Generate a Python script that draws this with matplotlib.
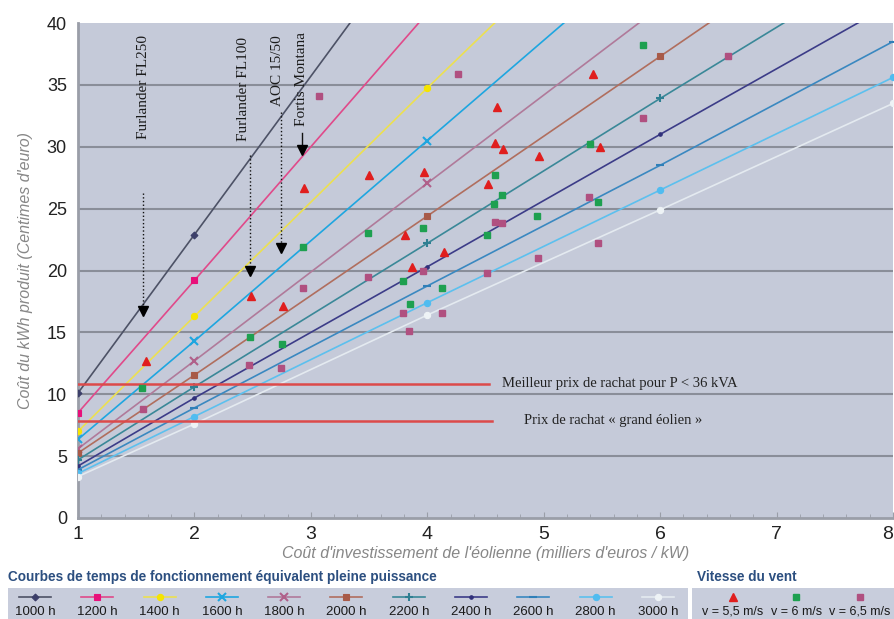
"""Coût du kWh éolien en fonction du coût d'investissement et des heures équivalentes."""

import matplotlib
matplotlib.use('Agg')
from matplotlib import pyplot
from matplotlib.patches import Rectangle
from matplotlib.ticker import MultipleLocator

# courbes de temps de fonctionnement équivalent pleine puissance
curve_labels = ['1000 h', '1200 h', '1400 h', '1600 h', '1800 h', '2000 h',
                '2200 h', '2400 h', '2600 h', '2800 h', '3000 h']
curve_x = [[1, 2, 4], [1, 2, 4], [1, 2, 4, 6], [1, 2, 4, 6], [1, 2, 4, 6],
           [1, 2, 4, 6, 8], [1, 2, 4, 6, 8], [1, 2, 4, 6, 8],
           [1, 2, 4, 6, 8], [1, 2, 4, 6, 8], [1, 2, 4, 6, 8]]
curve_y = [[10.1, 22.9, 48.5],
           [8.5, 19.2, 40.8],
           [7.0, 16.3, 34.75, 52.9],
           [6.35, 14.3, 30.5, 46.7],
           [5.6, 12.7, 27.05, 41.3],
           [5.25, 11.55, 24.4, 37.3, 50.2],
           [4.7, 10.6, 22.2, 33.9, 45.4],
           [4.2, 9.7, 20.3, 31.0, 41.6],
           [3.9, 8.9, 18.75, 28.5, 38.5],
           [3.6, 8.2, 17.4, 26.5, 35.6],
           [3.35, 7.6, 16.4, 24.9, 33.5]]
curve_colors = ['#4d5266', '#e04a8a', '#ece050', '#1ea6e0', '#b07a9a', '#b06e5e',
                '#3a8898', '#3c3c88', '#3a88c0', '#5cc0ee', '#e4eaf0']
curve_mcolors = ['#3c3f6a', '#e8107a', '#f5e400', '#1ea6e0', '#b0608a', '#a85a48',
                 '#2f7f92', '#30307a', '#2f7fb8', '#50bcf0', '#eef3f6']
curve_markers = ['D', 's', 'o', 'x', 'x', 's', '+', 'o', '_', 'o', 'o']
curve_msizes = [3.5, 4, 4.5, 5.5, 5.5, 4, 6, 2.5, 5.5, 4.5, 4.5]

# éoliennes du marché, par vitesse de vent
v55_x = [1.58, 2.49, 2.76, 2.94, 3.50, 3.81, 3.87, 3.97, 4.14, 4.52, 4.58,
         4.60, 4.65, 4.96, 5.42, 5.48]
v55_y = [12.7, 17.9, 17.1, 26.7, 27.7, 22.9, 20.3, 28.0, 21.5, 27.0, 30.3,
         33.2, 29.8, 29.25, 35.9, 30.0]
v60_x = [1.55, 2.48, 2.75, 2.93, 3.49, 3.79, 3.85, 3.96, 4.13, 4.51, 4.57,
         4.58, 4.64, 4.94, 5.40, 5.47, 5.85]
v60_y = [10.5, 14.6, 14.1, 21.9, 23.0, 19.15, 17.3, 23.4, 18.6, 22.9, 25.4,
         27.7, 26.1, 24.4, 30.2, 25.5, 38.2]
v65_x = [1.56, 2.47, 2.74, 2.93, 3.07, 3.49, 3.79, 3.84, 3.96, 4.13, 4.26,
         4.51, 4.58, 4.64, 4.95, 5.39, 5.47, 5.85, 6.58]
v65_y = [8.8, 12.4, 12.1, 18.6, 34.1, 19.5, 16.6, 15.1, 19.95, 16.6, 35.9,
         19.8, 23.9, 23.8, 21.0, 25.9, 22.2, 32.3, 37.3]
wind_labels = ['v = 5,5 m/s', 'v = 6 m/s', 'v = 6,5 m/s']

# prix de rachat
price_levels = [10.85, 7.85]
price_end = [4.53, 4.56]
price_labels = ['Meilleur prix de rachat pour P < 36 kVA',
                'Prix de rachat « grand éolien »']

# modèles annotés
turbine_names = ['Furlander FL250', 'Furlander FL100', 'AOC 15/50', 'Fortis Montana']
turbine_x = [1.56, 2.48, 2.74, 2.92]
turbine_from = [26.3, 29.3, 32.8, 31.1]
turbine_tip = [16.3, 19.5, 21.4, 29.3]

bg = '#c5cad9'
grey = '#8a8e99'
serif = ['Liberation Serif', 'DejaVu Serif']
narrow = ['Liberation Sans Narrow', 'DejaVu Sans Condensed', 'Liberation Sans']
sans = ['Liberation Sans', 'DejaVu Sans']

fig = pyplot.figure(figsize=(8.95, 6.19), dpi=100)
ax = fig.add_axes([78 / 895, 101 / 619, 815 / 895, 495 / 619], zorder=2)
ax.set_facecolor(bg)
ax.set_xlim(1, 8)
ax.set_ylim(0, 40)
for side in ['top', 'right']:
    ax.spines[side].set_visible(False)
for side in ['left', 'bottom']:
    ax.spines[side].set_color('#9a9ea8')
    ax.spines[side].set_linewidth(2)
ax.yaxis.set_major_locator(MultipleLocator(5))
ax.set_xticks(list(range(1, 9)))
ax.xaxis.set_minor_locator(MultipleLocator(0.2))
ax.tick_params(axis='y', length=0, pad=8, labelsize=13, labelcolor='#222222')
ax.tick_params(axis='x', which='major', length=4, direction='in', color='#9a9ea8',
               pad=6, labelsize=14, labelcolor='#222222')
ax.tick_params(axis='x', which='minor', length=3, direction='in', color='#9a9ea8')
for lab in ax.get_yticklabels():
    lab.set_family(sans)
for lab in ax.get_xticklabels():
    lab.set_family(narrow)
for y in range(5, 40, 5):
    ax.axhline(y, color=grey, lw=1.5, zorder=1)

ax.set_xlabel("Coût d'investissement de l'éolienne (milliers d'euros / kW)",
              style='italic', color='#878787', fontsize=11.5, family=sans, labelpad=2)
ax.set_ylabel("Coût du kWh produit (Centimes d'euro)",
              style='italic', color='#878787', fontsize=11.5, family=sans, labelpad=10)

for xs, ys, c, mc, m, ms in zip(curve_x, curve_y, curve_colors, curve_mcolors,
                                curve_markers, curve_msizes):
    mew = 1.5 if m in ('x', '+', '_') else 0.8
    ax.plot(xs, ys, color=c, lw=1.2, marker=m, ms=ms, mfc=mc, mec=mc, mew=mew,
            zorder=3)

ax.plot(v55_x, v55_y, ls='none', marker='^', ms=6, color='#e01e1e', zorder=4)
ax.plot(v60_x, v60_y, ls='none', marker='s', ms=4.5, color='#1ea050', zorder=4)
ax.plot(v65_x, v65_y, ls='none', marker='s', ms=4, color='#b05080', zorder=4)

for level, end, label in zip(price_levels, price_end, price_labels):
    ax.plot([1, end], [level, level], color='#dc4a4a', lw=1.8, zorder=3)
ax.text(4.64, price_levels[0], price_labels[0], va='center', ha='left',
        family=serif, fontsize=10.5, color='#222222')
ax.text(4.83, price_levels[1], price_labels[1], va='center', ha='left',
        family=serif, fontsize=10.5, color='#222222')

for name, x, y0, tip in zip(turbine_names, turbine_x, turbine_from, turbine_tip):
    ls = '-' if name == 'Fortis Montana' else ':'
    ax.plot([x, x], [y0, tip + 0.5], color='#111111', lw=1, ls=ls, zorder=5)
    ax.plot([x], [tip + 0.45], marker='v', ms=7.5, color='black', zorder=5)
text_x = [1.56, 2.42, 2.71, 2.92]
text_top = [39.0, 38.9, 39.0, 39.3]
for name, x, top in zip(turbine_names, text_x, text_top):
    ax.text(x, top, name, rotation=90, ha='center', va='top', family=serif,
            fontsize=11, color='#1a1a1a', zorder=6)

# légende en bas, en coordonnées pixel
lax = fig.add_axes([0, 0, 1, 1], zorder=0)
lax.set_xlim(0, 895)
lax.set_ylim(619, 0)
lax.axis('off')
lax.add_patch(Rectangle((8, 588), 680, 31, color='#c8cddc', lw=0))
lax.add_patch(Rectangle((692, 588), 203, 31, color='#c8cddc', lw=0))
lax.text(8, 577, 'Courbes de temps de fonctionnement équivalent pleine puissance',
         va='center', ha='left', fontsize=9.8, weight='bold', color='#2c4f80',
         family=narrow)
lax.text(697, 577, 'Vitesse du vent', va='center', ha='left', fontsize=9.8,
         weight='bold', color='#2c4f80', family=narrow)
for i, (label, c, mc, m, ms) in enumerate(zip(curve_labels, curve_colors, curve_mcolors,
                                              curve_markers, curve_msizes)):
    cx = 35 + 62.3 * i
    mew = 1.5 if m in ('x', '+', '_') else 0.8
    lax.plot([cx - 16, cx + 16], [597, 597], color=c, lw=1.2)
    lax.plot([cx], [597], marker=m, ms=ms, mfc=mc, mec=mc, mew=mew, color=c)
    lax.text(cx, 612, label, ha='center', va='center', fontsize=9.5,
             color='#1a1a1a', family=sans)
wind_style = [('^', 6, '#e01e1e'), ('s', 4.5, '#1ea050'), ('s', 4, '#b05080')]
for i, (label, (m, ms, c)) in enumerate(zip(wind_labels, wind_style)):
    cx = 733 + 63.5 * i
    lax.plot([cx], [597], marker=m, ms=ms, color=c, ls='none')
    lax.text(cx, 612, label, ha='center', va='center', fontsize=9,
             color='#1a1a1a', family=sans)

fig.canvas.draw()
ax.get_xticklabels()[-1].set_horizontalalignment('right')
fig.savefig('out.png', dpi=100)
